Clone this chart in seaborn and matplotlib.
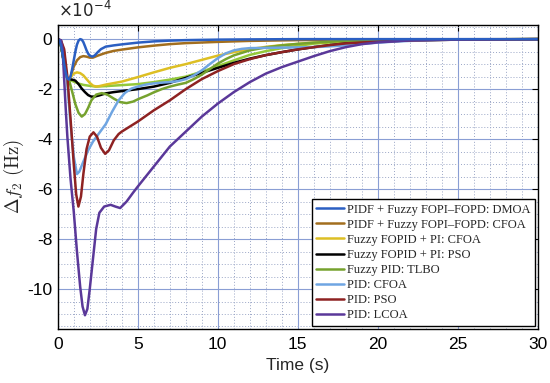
import numpy as np
import pandas as pd
import matplotlib
matplotlib.use("Agg")
import matplotlib.pyplot as plt
import seaborn as sns
from matplotlib.ticker import MultipleLocator, FormatStrFormatter

# ---------------- data (values in units of 1e-4 Hz) ----------------
t_dmoa = [0, 0.1, 0.2, 0.3, 0.4, 0.5, 0.6, 0.7, 0.8, 0.9, 1.0, 1.1, 1.2, 1.3, 1.4, 1.5,
          1.6, 1.7, 1.8, 1.9, 2.0, 2.15, 2.3, 2.5, 2.7, 3.0, 3.5, 4, 5, 6, 7, 8, 10, 12, 15, 20, 30]
v_dmoa = [0, -0.05, -0.25, -0.6, -1.0, -1.35, -1.58, -1.62, -1.5, -1.2, -0.85, -0.5, -0.22, -0.06, 0, -0.02,
          -0.12, -0.28, -0.45, -0.58, -0.66, -0.7, -0.66, -0.52, -0.4, -0.3, -0.25, -0.21, -0.14, -0.09, -0.06, -0.04, -0.02, -0.01, 0, 0, 0]

t_pidf_cfoa = [0, 0.1, 0.2, 0.3, 0.4, 0.5, 0.6, 0.7, 0.8, 0.9, 1.0, 1.2, 1.4, 1.6, 1.8, 2.0, 2.2, 2.5,
               3.0, 3.5, 4, 5, 6, 7, 8, 10, 12, 15, 20, 30]
v_pidf_cfoa = [0, -0.05, -0.25, -0.6, -1.0, -1.35, -1.58, -1.62, -1.5, -1.3, -1.1, -0.85, -0.72, -0.68, -0.7, -0.74, -0.74, -0.66,
               -0.55, -0.47, -0.42, -0.33, -0.26, -0.2, -0.16, -0.11, -0.07, -0.04, -0.01, 0]

t_ffopid_cfoa = [0, 0.1, 0.2, 0.3, 0.4, 0.5, 0.6, 0.7, 0.8, 0.9, 1.0, 1.2, 1.4, 1.6, 1.8, 2.0, 2.2, 2.4, 2.6,
                 3.0, 3.5, 4.0, 5, 6, 7, 8, 9, 10, 11, 12, 13, 14, 16, 18, 20, 25, 30]
v_ffopid_cfoa = [0, -0.05, -0.25, -0.6, -1.0, -1.35, -1.58, -1.62, -1.55, -1.45, -1.38, -1.33, -1.36, -1.45, -1.6, -1.75, -1.86, -1.9, -1.88,
                 -1.82, -1.76, -1.7, -1.52, -1.33, -1.15, -1.0, -0.83, -0.66, -0.52, -0.4, -0.31, -0.24, -0.14, -0.08, -0.04, -0.01, 0]

t_extra = [0, 0.1, 0.2, 0.3, 0.4, 0.5, 0.6, 0.7, 1.0, 1.3, 1.6, 2.0, 2.4, 3, 4, 5, 6, 7, 8, 9, 10, 11, 12,
           13, 14, 15, 16, 18, 20, 25, 30]
v_extra = [0, -0.05, -0.25, -0.6, -1.0, -1.35, -1.58, -1.62, -1.7, -1.78, -1.83, -1.87, -1.9, -1.88, -1.84, -1.8, -1.72, -1.62, -1.5, -1.3, -1.08, -0.85, -0.63,
           -0.48, -0.36, -0.27, -0.18, -0.09, -0.04, -0.01, 0]

t_ffopid_pso = [0, 0.1, 0.2, 0.3, 0.4, 0.5, 0.6, 0.7, 0.9, 1.1, 1.3, 1.5, 1.7, 1.9, 2.1, 2.3, 2.6, 3.0, 3.5, 4, 5, 6,
                7, 8, 9, 10, 11, 12, 13, 14, 15, 16, 17, 18, 20, 22, 25, 30]
v_ffopid_pso = [0, -0.05, -0.25, -0.6, -1.0, -1.35, -1.58, -1.62, -1.62, -1.66, -1.8, -1.98, -2.12, -2.24, -2.3, -2.3, -2.25, -2.17, -2.12, -2.08, -2.0, -1.9,
                -1.75, -1.55, -1.35, -1.15, -0.95, -0.78, -0.64, -0.52, -0.41, -0.32, -0.24, -0.17, -0.1, -0.05, -0.02, 0]

t_fpid_tlbo = [0, 0.1, 0.2, 0.3, 0.4, 0.5, 0.6, 0.7, 0.9, 1.1, 1.3, 1.5, 1.7, 1.9, 2.1, 2.4, 2.75, 3.1, 3.5, 3.9, 4.3, 4.7,
               5.1, 5.6, 6.0, 6.5, 7.0, 7.5, 8.0, 8.5, 9, 9.5, 10, 10.5, 11, 12, 13, 14, 15, 16, 18, 20, 25, 30]
v_fpid_tlbo = [0, -0.05, -0.25, -0.6, -1.0, -1.35, -1.58, -1.62, -2.1, -2.6, -2.95, -3.1, -3.0, -2.75, -2.45, -2.22, -2.16, -2.22, -2.38, -2.52, -2.56, -2.5,
               -2.38, -2.25, -2.13, -2.0, -1.9, -1.82, -1.75, -1.6, -1.42, -1.2, -0.98, -0.8, -0.65, -0.45, -0.33, -0.25, -0.19, -0.14, -0.07, -0.04, -0.01, 0]

t_pid_cfoa = [0, 0.2, 0.4, 0.6, 0.8, 1.0, 1.2, 1.35, 1.6, 1.9, 2.2, 2.6, 3.0, 3.4, 3.8, 4.2, 4.6, 5.0, 5.5, 6.0, 6.5, 7.0,
              7.5, 8.0, 8.5, 9.0, 9.5, 10, 10.5, 11, 11.5, 12, 13, 14, 15, 16, 17, 18, 19, 20, 21, 22, 24, 26, 30]
v_pid_cfoa = [0, -0.05, -0.5, -1.8, -3.4, -4.7, -5.4, -5.3, -4.9, -4.45, -4.1, -3.75, -3.4, -2.9, -2.45, -2.15, -1.98, -1.9, -1.82, -1.77, -1.74, -1.72,
              -1.68, -1.6, -1.45, -1.25, -1.0, -0.76, -0.57, -0.45, -0.39, -0.36, -0.35, -0.34, -0.33, -0.32, -0.29, -0.25, -0.19, -0.14, -0.1, -0.07, -0.03, -0.01, 0]

t_pid_pso = [0, 0.2, 0.4, 0.6, 0.8, 1.0, 1.15, 1.29, 1.45, 1.6, 1.8, 2.0, 2.23, 2.45, 2.7, 2.96, 3.2, 3.5, 3.8, 4.0, 4.5, 5.0,
             6.0, 7.0, 8.0, 9, 10, 11, 12, 13, 14, 15, 16, 17, 18, 20, 22, 25, 30]
v_pid_pso = [0, -0.05, -0.4, -1.5, -3.2, -5.0, -6.2, -6.7, -6.3, -5.4, -4.4, -3.9, -3.73, -3.9, -4.35, -4.59, -4.45, -4.05, -3.8, -3.7, -3.5, -3.3,
             -2.85, -2.45, -2.0, -1.6, -1.28, -1.0, -0.8, -0.64, -0.52, -0.41, -0.32, -0.24, -0.17, -0.1, -0.05, -0.02, 0]

t_pid_lcoa = [0, 0.2, 0.3, 0.4, 0.5, 0.6, 0.8, 1.0, 1.2, 1.4, 1.55, 1.7, 1.85, 2.0, 2.2, 2.4, 2.6, 2.9, 3.3, 3.6, 3.9, 4.3,
              4.7, 5.0, 6.0, 7.0, 8.0, 9.0, 10, 11, 12, 13, 14, 15, 16, 17, 18, 19, 20, 22, 24, 26, 30]
v_pid_lcoa = [0, -0.05, -0.4, -1.6, -2.8, -3.9, -5.6, -6.9, -8.5, -9.9, -10.7, -11.05, -10.8, -10.0, -8.8, -7.6, -6.95, -6.7, -6.63, -6.7, -6.76, -6.5,
              -6.15, -5.9, -5.1, -4.3, -3.7, -3.1, -2.58, -2.12, -1.72, -1.38, -1.12, -0.9, -0.68, -0.48, -0.32, -0.2, -0.13, -0.05, -0.02, -0.01, 0]

labels = ["PIDF + Fuzzy FOPI\u2013FOPD: DMOA", "PIDF + Fuzzy FOPI\u2013FOPD: CFOA",
          "Fuzzy FOPID + PI: CFOA", "Fuzzy FOPID + PI: PSO", "Fuzzy PID: TLBO",
          "PID: CFOA", "PID: PSO", "PID: LCOA"]
colors = ["#2B5FC2", "#A26E1E", "#DDBF24", "#000000", "#76A22E", "#6FA5E2", "#8E2222", "#5A3899"]
extra_color = "#93C83A"

series = [(t_dmoa, v_dmoa), (t_pidf_cfoa, v_pidf_cfoa), (t_ffopid_cfoa, v_ffopid_cfoa),
          (t_ffopid_pso, v_ffopid_pso), (t_fpid_tlbo, v_fpid_tlbo), (t_pid_cfoa, v_pid_cfoa),
          (t_pid_pso, v_pid_pso), (t_pid_lcoa, v_pid_lcoa)]

# ---------------- style ----------------
sns.set_theme(style="white")
plt.rcParams["font.family"] = ["Liberation Sans", "DejaVu Sans"]
plt.rcParams["axes.unicode_minus"] = False

fig = plt.figure(figsize=(5.5, 3.83), dpi=100)
ax = fig.add_axes([0.105, 0.141, 0.873, 0.794])

lw = 1.8
sns.lineplot(x=np.array(t_extra), y=np.array(v_extra), ax=ax, color=extra_color,
             lw=lw, sort=False, estimator=None, legend=False)
order = [1, 2, 3, 4, 5, 6, 7, 0]
handles = {}
for i in order:
    tt, vv = series[i]
    sns.lineplot(x=np.array(tt), y=np.array(vv), ax=ax, color=colors[i],
                 lw=lw, sort=False, estimator=None, legend=False)
    handles[i] = ax.get_lines()[-1]

ax.set_xlim(0, 30)
ax.set_ylim(-11.6, 0.57)
ax.xaxis.set_major_locator(MultipleLocator(5))
ax.xaxis.set_minor_locator(MultipleLocator(1))
ax.yaxis.set_major_locator(MultipleLocator(2))
ax.yaxis.set_minor_locator(MultipleLocator(0.5))
ax.yaxis.set_major_formatter(FormatStrFormatter("%d"))

ax.grid(which="major", color="#8A9ED4", lw=0.8, ls="-")
ax.grid(which="minor", color="#9AA6C6", lw=0.7, ls=(0, (1, 2)))
ax.set_axisbelow(True)

ax.tick_params(which="both", direction="in", top=True, right=True, labelsize=12.5, colors="black")
ax.tick_params(which="major", length=4, width=0.8)
ax.tick_params(axis="y", pad=4)
ax.tick_params(axis="x", pad=6)
ax.tick_params(which="minor", length=0)
for s in ax.spines.values():
    s.set_color("black")
    s.set_linewidth(1.0)

ax.set_xlabel("Time (s)", fontsize=12.5, labelpad=4)
ax.set_ylabel(r"$\Delta f_2\ (\mathrm{Hz})$", fontsize=13.5, labelpad=0, math_fontfamily="cm")
ax.yaxis.set_label_coords(-0.066, 0.5)
ax.text(0.0, 1.015, r"$\times10^{-4}$", transform=ax.transAxes, fontsize=12,
        ha="left", va="bottom", math_fontfamily="dejavusans")

leg = ax.legend([handles[i] for i in range(8)], labels, loc="lower right",
                prop={"family": "Liberation Serif", "size": 9}, frameon=True, fancybox=False,
                framealpha=1, edgecolor="black", borderaxespad=0.25, labelspacing=0.25,
                handlelength=2.2, handletextpad=0.25, borderpad=0.35)
leg.get_frame().set_linewidth(1.0)

fig.savefig("out.png", dpi=100)
